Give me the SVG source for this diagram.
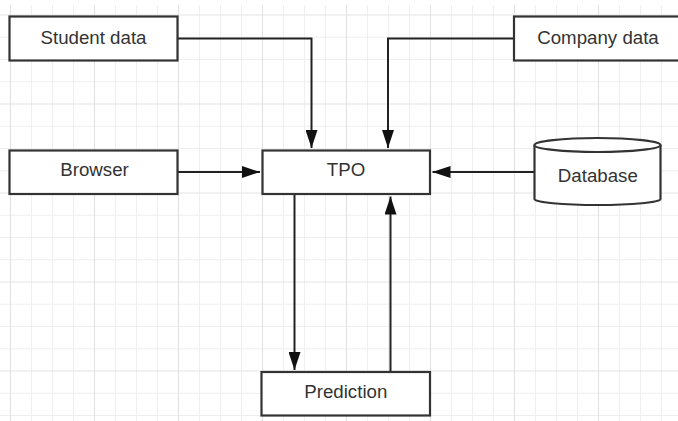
<svg xmlns="http://www.w3.org/2000/svg" width="678" height="421" viewBox="0 0 678 421">
  <defs>
    <style>
      .minor { stroke: #efefef; stroke-width: 1; fill: none; }
      .major { stroke: #e3e3e3; stroke-width: 1.2; fill: none; }
      .box { fill: #ffffff; stroke: #333333; stroke-width: 2.2; }
      .conn { stroke: #222222; stroke-width: 2; fill: none; }
      .label { font-family: "Liberation Sans", Arial, sans-serif; font-size: 18.7px; fill: #333333; text-anchor: middle; }
    </style>
    <marker id="arrow" viewBox="0 0 18 12" refX="18" refY="6" markerWidth="18" markerHeight="12" markerUnits="userSpaceOnUse" orient="auto">
      <path d="M0,0 L18,6 L0,12 Z" fill="#111111"/>
    </marker>
  </defs>
  <rect x="0" y="0" width="678" height="421" fill="#ffffff"/>
  <g id="grid">
    <path class="minor" d="M31.5,5V421M52.5,5V421M73.5,5V421M115.5,5V421M136.5,5V421M157.5,5V421M199.5,5V421M220.5,5V421M241.5,5V421M283.5,5V421M304.5,5V421M325.5,5V421M367.5,5V421M388.5,5V421M409.5,5V421M451.5,5V421M472.5,5V421M493.5,5V421M535.5,5V421M556.5,5V421M577.5,5V421M619.5,5V421M640.5,5V421M661.5,5V421
      M0,37.25H678M0,59.5H678M0,81.75H678M0,126.25H678M0,148.5H678M0,170.75H678M0,215.25H678M0,237.5H678M0,259.75H678M0,304.25H678M0,326.5H678M0,348.75H678M0,393.25H678M0,415.5H678"/>
    <path class="major" d="M10.5,5V421M94.5,5V421M178.5,5V421M262.5,5V421M346.5,5V421M430.5,5V421M514.5,5V421M598.5,5V421
      M0,15H678M0,104H678M0,193H678M0,282H678M0,371H678"/>
  </g>
  <g id="connectors">
    <path class="conn" d="M178,38.5 H311.5 V148" marker-end="url(#arrow)"/>
    <path class="conn" d="M514,38.5 H388 V148" marker-end="url(#arrow)"/>
    <path class="conn" d="M178,172 H260" marker-end="url(#arrow)"/>
    <path class="conn" d="M534.5,172 H432.5" marker-end="url(#arrow)"/>
    <path class="conn" d="M294.5,194 V370" marker-end="url(#arrow)"/>
    <path class="conn" d="M390.5,371 V196.5" marker-end="url(#arrow)"/>
  </g>
  <g id="student-data">
    <rect class="box" x="9.5" y="16.5" width="168" height="44"/>
    <text class="label" x="93.5" y="43.5">Student data</text>
  </g>
  <g id="company-data">
    <rect class="box" x="514" y="16.5" width="172" height="44"/>
    <text class="label" x="598" y="43.5">Company data</text>
  </g>
  <g id="browser">
    <rect class="box" x="9.5" y="150.5" width="168" height="43.5"/>
    <text class="label" x="94.5" y="176">Browser</text>
  </g>
  <g id="tpo">
    <rect class="box" x="262.5" y="150.5" width="167.5" height="43.5"/>
    <text class="label" x="346" y="176">TPO</text>
  </g>
  <g id="database">
    <path class="box" d="M534.5,145 A63,7 0 0 1 660.5,145 L660.5,199 A63,6 0 0 1 534.5,199 Z"/>
    <path class="box" d="M534.5,145 A63,7 0 0 0 660.5,145" fill="none"/>
    <text class="label" x="597.8" y="182">Database</text>
  </g>
  <g id="prediction">
    <rect class="box" x="261.5" y="372" width="168.5" height="43.5"/>
    <text class="label" x="345.8" y="398.3">Prediction</text>
  </g>
</svg>
